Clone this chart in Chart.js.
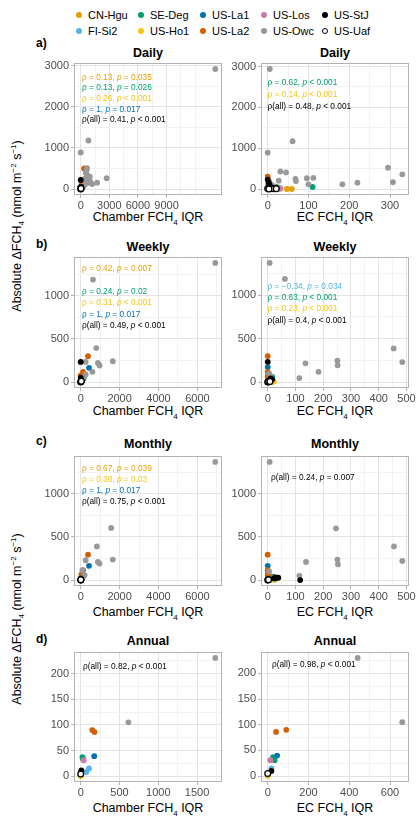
<!DOCTYPE html>
<html><head><meta charset="utf-8">
<script src="https://cdn.jsdelivr.net/npm/chart.js@4.4.1/dist/chart.umd.min.js"></script>
<style>
body{margin:0;background:#fff;font-family:'Liberation Sans',Arial,sans-serif;}
#wrap{position:relative;width:420px;height:817px;overflow:hidden;background:#fff}
.t{position:absolute;white-space:nowrap;line-height:1}
canvas{position:absolute}
.mk{position:absolute;border-radius:50%;box-sizing:border-box}
</style></head><body><div id="wrap"></div>
<script>
// ---------- data ----------
const SITES = ['CN-Hgu','FI-Si2','SE-Deg','US-Ho1','US-La1','US-La2','US-Los','US-Owc','US-StJ','US-Uaf'];
const SITE_COLORS = ['#E69F00','#56B4E9','#009E73','#F5C710','#0072B2','#D55E00','#CC79A7','#999999','#000000','#FFFFFF'];

// rows: [site, IQR, absolute dFCH4]
const dailyChamber = [
 ['US-Owc',14100,2920],['US-Owc',0,890],['US-Owc',810,1180],['US-Owc',670,510],['US-Owc',600,450],['US-Owc',530,390],
 ['US-Owc',700,330],['US-Owc',950,300],['US-Owc',450,250],['US-Owc',800,220],['US-Owc',1000,180],['US-Owc',1720,155],
 ['US-Owc',2710,262],['US-Owc',670,140],['US-Owc',350,100],['US-Owc',1200,120],
 ['US-La2',350,500],['US-La2',250,200],['US-La2',100,120],
 ['US-StJ',0,220],['US-StJ',50,60],['US-StJ',20,30],
 ['US-Uaf',0,30],['US-Uaf',0,0],['US-Uaf',30,10],
 ['US-La1',530,150],['US-La1',300,80],['US-La1',150,40],
 ['FI-Si2',100,20],['FI-Si2',200,50],
 ['CN-Hgu',50,10],['CN-Hgu',80,20],['CN-Hgu',120,15],['CN-Hgu',60,5],
 ['SE-Deg',150,60],['SE-Deg',250,80],['SE-Deg',100,30],
 ['US-Ho1',30,5],['US-Ho1',60,10],['US-Ho1',90,15],['US-Ho1',40,25],
 ['US-Los',200,40]
];
const dailyEC = [
 ['US-Owc',5,2940],['US-Owc',0,890],['US-Owc',61,1170],['US-Owc',31,430],['US-Owc',45,405],['US-Owc',27,205],
 ['US-Owc',68,250],['US-Owc',69,195],['US-Owc',96,263],['US-Owc',112,275],['US-Owc',100,115],['US-Owc',183,115],
 ['US-Owc',220,155],['US-Owc',295,523],['US-Owc',307,165],['US-Owc',330,360],['US-Owc',10,100],['US-Owc',15,60],['US-Owc',5,150],
 ['US-La2',0,300],['US-La2',2,200],['US-La2',1,120],
 ['US-StJ',0,230],['US-StJ',3,150],['US-StJ',5,80],['US-StJ',8,30],['US-StJ',12,20],
 ['US-Uaf',0,10],['US-Uaf',7,10],['US-Uaf',15,5],['US-Uaf',21,8],['US-Uaf',3,0],
 ['US-La1',2,170],['US-La1',4,60],
 ['FI-Si2',10,40],['FI-Si2',18,25],['FI-Si2',25,30],
 ['CN-Hgu',47,0],['CN-Hgu',59,0],['CN-Hgu',30,5],['CN-Hgu',20,10],
 ['SE-Deg',110,50],['SE-Deg',19,57],['SE-Deg',25,40],['SE-Deg',12,70],
 ['US-Ho1',5,5],['US-Ho1',10,15],['US-Ho1',15,20],['US-Ho1',22,10],
 ['US-Los',31,17],['US-Los',28,25]
];
const weeklyChamber = [
 ['US-Owc',6920,1380],['US-Owc',630,1187],['US-Owc',800,394],['US-Owc',255,233],['US-Owc',885,222],['US-Owc',970,192],
 ['US-Owc',1650,241],['US-Owc',600,118],['US-Owc',120,50],['US-Owc',255,88],['US-Owc',50,20],
 ['US-La2',375,299],['US-La2',120,118],['US-La2',0,77],['US-La2',50,40],
 ['US-La1',425,165],['US-La1',50,10],['US-La1',150,60],
 ['US-StJ',0,233],['US-StJ',0,50],['US-StJ',20,20],
 ['US-Uaf',0,0],['US-Uaf',10,5],['US-Uaf',30,10],
 ['FI-Si2',60,15],['FI-Si2',100,30],
 ['CN-Hgu',20,5],['CN-Hgu',40,10],['CN-Hgu',70,20],
 ['SE-Deg',80,30],['SE-Deg',150,40],
 ['US-Ho1',10,3],['US-Ho1',30,8],['US-Ho1',50,12],
 ['US-Los',90,40]
];
const weeklyEC = [
 ['US-Owc',7,1371],['US-Owc',62,1187],['US-Owc',136,215],['US-Owc',183,118],['US-Owc',114,46],['US-Owc',251,245],
 ['US-Owc',252,192],['US-Owc',454,387],['US-Owc',485,230],['US-Owc',5,100],['US-Owc',10,60],
 ['US-La2',0,299],['US-La2',0,118],['US-La2',0,61],['US-La2',2,80],
 ['US-StJ',0,233],['US-StJ',10,43],['US-StJ',16,31],['US-StJ',5,20],
 ['US-La1',0,172],['US-La1',2,30],
 ['US-Uaf',0,0],['US-Uaf',3,2],['US-Uaf',8,5],
 ['FI-Si2',8,20],['FI-Si2',12,10],['FI-Si2',4,40],
 ['CN-Hgu',15,5],['CN-Hgu',20,8],
 ['SE-Deg',16,60],['SE-Deg',10,30],['SE-Deg',6,45],
 ['US-Ho1',19,12],['US-Ho1',22,5],['US-Ho1',12,3],
 ['US-Los',14,25]
];
const monthlyChamber = [
 ['US-Owc',6920,1371],['US-Owc',1565,605],['US-Owc',830,390],['US-Owc',255,230],['US-Owc',885,210],['US-Owc',970,192],
 ['US-Owc',1650,238],['US-Owc',85,115],['US-Owc',200,57],['US-Owc',40,30],
 ['US-La2',375,295],['US-La2',120,115],['US-La2',35,66],['US-La2',60,40],
 ['US-La1',425,165],['US-La1',60,20],
 ['US-StJ',0,20],['US-StJ',10,10],
 ['US-Uaf',0,0],['US-Uaf',5,3],
 ['FI-Si2',50,30],['FI-Si2',100,20],
 ['CN-Hgu',30,10],['CN-Hgu',60,15],
 ['SE-Deg',80,35],
 ['US-Ho1',20,5],['US-Ho1',40,8],
 ['US-Los',70,25]
];
const monthlyEC = [
 ['US-Owc',7,1371],['US-Owc',246,601],['US-Owc',138,210],['US-Owc',251,238],['US-Owc',253,184],['US-Owc',455,391],
 ['US-Owc',485,222],['US-Owc',114,50],['US-Owc',5,100],
 ['US-La2',0,295],['US-La2',0,115],['US-La2',0,50],['US-La2',1,80],
 ['US-La1',0,165],['US-La1',2,20],
 ['US-StJ',117,0],['US-StJ',28,30],['US-StJ',32,25],['US-StJ',38,28],['US-StJ',22,20],
 ['US-Uaf',0,0],['US-Uaf',3,5],
 ['FI-Si2',15,20],['FI-Si2',20,10],
 ['CN-Hgu',25,5],
 ['SE-Deg',18,40],['SE-Deg',12,30],
 ['US-Ho1',10,5],['US-Ho1',16,8],
 ['US-Los',20,25]
];
const annualChamber = [
 ['US-Owc',1735,231],['US-Owc',615,105],
 ['US-La2',149,90],['US-La2',178,86],
 ['US-La1',174,39],
 ['SE-Deg',22,37],['SE-Deg',29,34],
 ['US-Los',38,31],
 ['FI-Si2',106,15],['FI-Si2',72,8],
 ['US-StJ',8,11],
 ['US-Uaf',0,4],
 ['US-Ho1',0,0]
];
const annualEC = [
 ['US-Owc',441,230],['US-Owc',660,105],
 ['US-La2',91,90],['US-La2',41,86],
 ['US-La1',46,40],
 ['SE-Deg',26,37],['SE-Deg',34,31],
 ['US-Los',13,31],
 ['FI-Si2',18,15],
 ['US-StJ',18,10],
 ['US-Uaf',0,5],
 ['US-Ho1',0,0]
];

// tick labels
const xTicksDailyChamber = [0,3000,6000,9000];
const xTicksDailyEC = [0,100,200,300];
const yTicksDaily = [0,1000,2000,3000];
const xTicksChamberWM = [0,2000,4000,6000];
const xTicksECWM = [0,100,200,300,400,500];
const yTicksWM = [0,500,1000];
const xTicksAnnualChamber = [0,500,1000,1500];
const xTicksAnnualEC = [0,200,400,600];
const yTicksAnnual = [0,50,100,150,200];

// correlation labels: [site or 'all', rho, p-part]
const annDailyChamber = [['CN-Hgu','0.13','= 0.035'],['SE-Deg','0.13','= 0.026'],['US-Ho1','0.26','< 0.001'],['US-La1','1','= 0.017'],['all','0.41','< 0.001']];
const annDailyEC = [['SE-Deg','0.62','< 0.001'],['US-Ho1','0.14','< 0.001'],['all','0.48','< 0.001']];
const annWeeklyChamber = [['CN-Hgu','0.42','= 0.007'],['SE-Deg','0.24','= 0.02'],['US-Ho1','0.31','< 0.001'],['US-La1','1','= 0.017'],['all','0.49','< 0.001']];
const annWeeklyEC = [['FI-Si2','\u22120.34','= 0.034'],['SE-Deg','0.63','< 0.001'],['US-Ho1','0.23','< 0.001'],['all','0.4','< 0.001']];
const annMonthlyChamber = [['CN-Hgu','0.67','= 0.039'],['US-Ho1','0.38','= 0.03'],['US-La1','1','= 0.017'],['all','0.75','< 0.001']];
const annMonthlyEC = [['all','0.24','= 0.007']];
const annAnnualChamber = [['all','0.82','< 0.001']];
const annAnnualEC = [['all','0.98','< 0.001']];

// ---------- layout ----------
const FONT = "'Liberation Sans', Arial, sans-serif";
const COL_L = [74, 261], PW = 148;
const ROW_T = [63, 257, 456, 652], ROW_H = [132, 131, 130, 130];
const TITLES = ['Daily','Weekly','Monthly','Annual'];
const TITLE_Y = [53, 247, 444, 641];
const LETTERS = ['a)','b)','c)','d)'];
const LETTER_Y = [43, 244, 441, 639];
const XTITLE_Y = [219, 413, 614, 810];

const PANELS = [
 {rows:dailyChamber, xt:xTicksDailyChamber, yt:yTicksDaily, col:0, row:0, ann:annDailyChamber, annX:82, annY:[76.7,87.3,98.3,109,119.3]},
 {rows:dailyEC, xt:xTicksDailyEC, yt:yTicksDaily, col:1, row:0, ann:annDailyEC, annX:267.5, annY:[82.3,94,105.7]},
 {rows:weeklyChamber, xt:xTicksChamberWM, yt:yTicksWM, col:0, row:1, ann:annWeeklyChamber, annX:82, annY:[268.3,290.7,302.3,313.7,325]},
 {rows:weeklyEC, xt:xTicksECWM, yt:yTicksWM, col:1, row:1, ann:annWeeklyEC, annX:267.5, annY:[286,297,308.3,320]},
 {rows:monthlyChamber, xt:xTicksChamberWM, yt:yTicksWM, col:0, row:2, ann:annMonthlyChamber, annX:82, annY:[468,479,490,500.7]},
 {rows:monthlyEC, xt:xTicksECWM, yt:yTicksWM, col:1, row:2, ann:annMonthlyEC, annX:271, annY:[477.3]},
 {rows:annualChamber, xt:xTicksAnnualChamber, yt:yTicksAnnual, col:0, row:3, ann:annAnnualChamber, annX:83, annY:[666]},
 {rows:annualEC, xt:xTicksAnnualEC, yt:yTicksAnnual, col:1, row:3, ann:annAnnualEC, annX:272, annY:[664.3]}
];

const wrap = document.getElementById('wrap');
function addText(html, x, y, o) {
  o = o || {};
  const d = document.createElement('div');
  d.className = 't';
  d.innerHTML = html;
  d.style.left = x + 'px';
  d.style.top = y + 'px';
  d.style.fontSize = (o.size || 11) + 'px';
  d.style.fontWeight = o.bold ? 'bold' : 'normal';
  d.style.color = o.color || '#000';
  let tr = o.anchor === 'center' ? 'translate(-50%,-50%)' : 'translate(0,-50%)';
  if (o.rotate) tr += ' rotate(' + o.rotate + 'deg)';
  d.style.transform = tr;
  wrap.appendChild(d);
  return d;
}

// legend
const LEG_MX = [79,141,203,264,325], LEG_TX = [88,150,212,273,334], LEG_Y = [15,31];
SITES.forEach((s, i) => {
  const c = Math.floor(i / 2), r = i % 2;
  const m = document.createElement('div');
  m.className = 'mk';
  const d = 6.5;
  m.style.width = d + 'px'; m.style.height = d + 'px';
  m.style.left = (LEG_MX[c] - d/2) + 'px'; m.style.top = (LEG_Y[r] - d/2) + 'px';
  if (s === 'US-Uaf') { m.style.background = '#fff'; m.style.border = '1.2px solid #000'; }
  else m.style.background = SITE_COLORS[i];
  wrap.appendChild(m);
  addText(s, LEG_TX[c], LEG_Y[r], {size: 11});
});

// titles, letters, axis titles
for (let r = 0; r < 4; r++) {
  addText(LETTERS[r], 36, LETTER_Y[r], {size: 12, bold: true});
  addText(TITLES[r], COL_L[0] + PW/2, TITLE_Y[r], {size: 12.5, bold: true, anchor: 'center'});
  addText(TITLES[r], COL_L[1] + PW/2, TITLE_Y[r], {size: 12.5, bold: true, anchor: 'center'});
  addText('Chamber FCH<sub style="font-size:8px">4</sub> IQR', COL_L[0] + PW/2, XTITLE_Y[r], {size: 12.5, anchor: 'center'});
  addText('EC FCH<sub style="font-size:8px">4</sub> IQR', COL_L[1] + PW/2, XTITLE_Y[r], {size: 12.5, anchor: 'center'});
}
const YLAB = 'Absolute \u0394FCH<sub style="font-size:8px">4</sub> (nmol m<sup style="font-size:8px">\u22122</sup> s<sup style="font-size:8px">\u22121</sup>)';
addText(YLAB, 18, (ROW_T[0] + ROW_T[1] + ROW_H[1]) / 2, {size: 12.5, anchor: 'center', rotate: -90});
addText(YLAB, 18, (ROW_T[2] + ROW_T[3] + ROW_H[3]) / 2, {size: 12.5, anchor: 'center', rotate: -90});

// ---------- charts ----------
function expand(vals) {
  const lo = Math.min(...vals), hi = Math.max(...vals), e = (hi - lo) * 0.05;
  return [lo - e, hi + e];
}
function allTicks(majors, lo, hi) {
  const step = majors[1] - majors[0];
  const ext = [majors[0] - step].concat(majors, [majors[majors.length - 1] + step]);
  const minors = [];
  for (let i = 0; i < ext.length - 1; i++) minors.push((ext[i] + ext[i+1]) / 2);
  minors.push(ext[ext.length - 1]);
  const set = new Set();
  majors.concat(minors).forEach(v => { if (v >= lo && v <= hi) set.add(v); });
  return Array.from(set).sort((a, b) => a - b);
}
function axis(majors, lo, hi, isX) {
  const maj = new Set(majors);
  const tks = allTicks(majors, lo, hi);
  return {
    type: 'linear', min: lo, max: hi,
    afterBuildTicks: s => { s.ticks = tks.map(v => ({value: v})); },
    afterFit: s => {
      if (isX) { s.height = 20; s.paddingLeft = 0; s.paddingRight = 0; }
      else { s.width = 44; s.paddingTop = 0; s.paddingBottom = 0; }
    },
    ticks: {
      autoSkip: false, maxRotation: 0, minRotation: 0, padding: isX ? 1 : 2,
      color: '#4D4D4D', font: {family: FONT, size: 11},
      callback: v => maj.has(v) ? String(v) : ''
    },
    grid: {
      drawTicks: true, tickLength: 3, lineWidth: 1,
      color: c => (c.tick && maj.has(c.tick.value)) ? '#E3E3E3' : '#F2F2F2',
      tickColor: c => (c.tick && maj.has(c.tick.value)) ? '#B3B3B3' : 'rgba(0,0,0,0)'
    },
    border: {display: false}
  };
}
const borderPlugin = {
  id: 'panelBorder',
  afterDatasetsDraw(chart) {
    const a = chart.chartArea, c = chart.ctx;
    c.save(); c.strokeStyle = '#B3B3B3'; c.lineWidth = 1;
    c.strokeRect(Math.round(a.left) + 0.5, Math.round(a.top) + 0.5, Math.round(a.right - a.left) - 1, Math.round(a.bottom - a.top) - 1);
    c.restore();
  }
};

PANELS.forEach(p => {
  const L = COL_L[p.col], T = ROW_T[p.row], H = ROW_H[p.row];
  const padT = 8, padR = 12, yW = 44, xH = 20;
  const cv = document.createElement('canvas');
  cv.width = PW + yW + padR; cv.height = H + padT + xH;
  cv.style.left = (L - yW) + 'px'; cv.style.top = (T - padT) + 'px';
  cv.style.width = cv.width + 'px'; cv.style.height = cv.height + 'px';
  wrap.appendChild(cv);
  const [xlo, xhi] = expand(p.rows.map(r => r[1]));
  const [ylo, yhi] = expand(p.rows.map(r => r[2]));
  const datasets = SITES.map((s, i) => ({
    label: s,
    data: p.rows.filter(r => r[0] === s).map(r => ({x: r[1], y: r[2]})),
    backgroundColor: SITE_COLORS[i],
    borderColor: s === 'US-Uaf' ? '#000' : SITE_COLORS[i],
    borderWidth: s === 'US-Uaf' ? 1.3 : 0,
    pointRadius: 2.9, pointHoverRadius: 2.9,
    order: SITES.length - i
  }));
  new Chart(cv, {
    type: 'scatter',
    data: {datasets},
    options: {
      responsive: false, animation: false, devicePixelRatio: 1,
      layout: {padding: {left: 0, top: padT, right: padR, bottom: 0}},
      plugins: {legend: {display: false}, tooltip: {enabled: false}},
      scales: {x: axis(p.xt, xlo, xhi, true), y: axis(p.yt, ylo, yhi, false)}
    },
    plugins: [borderPlugin]
  });
  p.ann.forEach((a, k) => {
    const col = a[0] === 'all' ? '#000' : SITE_COLORS[SITES.indexOf(a[0])];
    const lab = a[0] === 'all' ? '\u03C1(all)' : '\u03C1';
    addText(lab + ' = ' + a[1] + ', <i>p</i> ' + a[2], p.annX, p.annY[k], {size: 8.3, color: col});
  });
});
</script>
</body></html>
